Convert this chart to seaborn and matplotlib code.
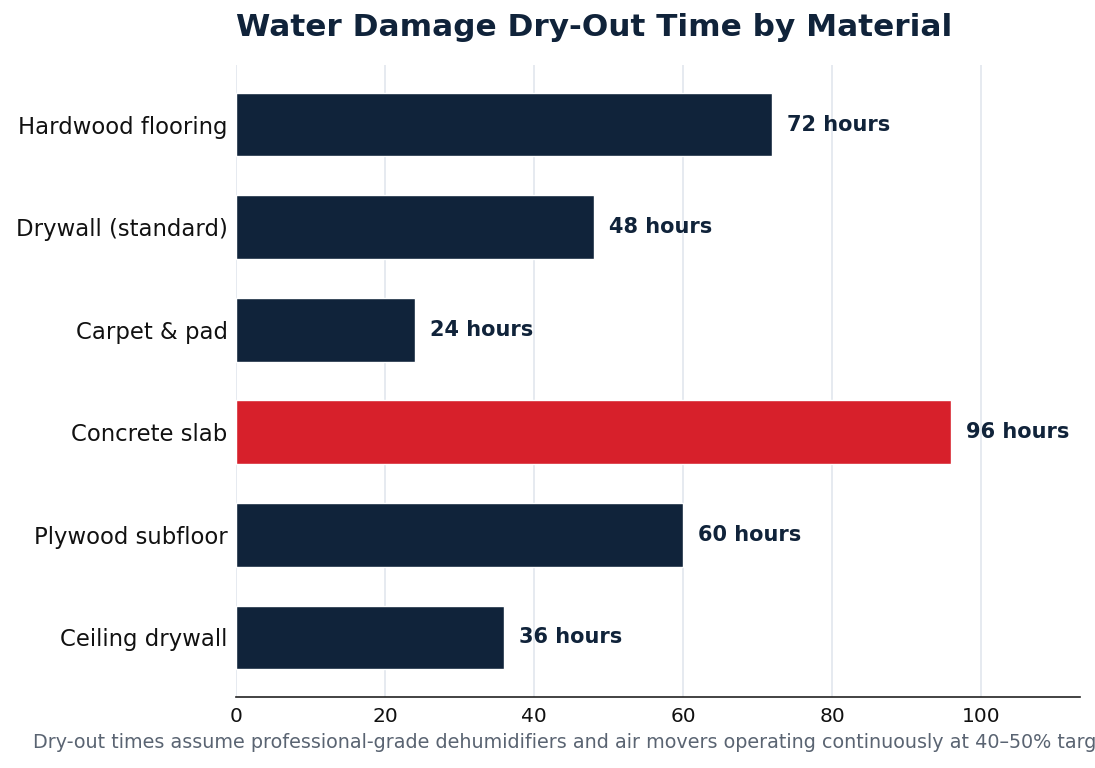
import numpy as np
import pandas as pd
import matplotlib
matplotlib.use("Agg")
import matplotlib.pyplot as plt
import seaborn as sns

materials = ["Hardwood flooring", "Drywall (standard)", "Carpet & pad",
             "Concrete slab", "Plywood subfloor", "Ceiling drywall"]
hours = [72, 48, 24, 96, 60, 36]
highlight = "Concrete slab"

NAVY = "#10233a"
RED = "#d7202b"

df = pd.DataFrame({"material": materials, "hours": hours})
palette = {m: (RED if m == highlight else NAVY) for m in materials}

sns.set_theme(style="white")
plt.rcParams["font.family"] = ["DejaVu Sans"]

fig = plt.figure(figsize=(10.95, 7.68), dpi=100)
ax = fig.add_axes([236 / 1095, 1 - 697 / 768, (1080 - 236) / 1095, (697 - 65) / 768])

sns.barplot(data=df, x="hours", y="material", hue="material", palette=palette,
            order=materials, width=0.62, legend=False, ax=ax, saturation=1)

ax.set_xlim(0, max(hours) * 1.18)
ax.set_ylim(len(materials) - 0.42, -0.58)
ax.set_xticks([0, 20, 40, 60, 80, 100])
ax.xaxis.grid(True, color="#e2e6ee", linewidth=1.2)
ax.set_axisbelow(True)
ax.set_xlabel("")
ax.set_ylabel("")
for s in ["left", "right", "top"]:
    ax.spines[s].set_visible(False)
ax.spines["bottom"].set_color("#222222")
ax.spines["bottom"].set_linewidth(1.2)
ax.tick_params(axis="y", labelsize=16.4, length=0, pad=6, colors="#111111")
ax.tick_params(axis="x", labelsize=14.5, length=4, colors="#111111")

for i, v in enumerate(hours):
    ax.text(v + 2, i, f"{v} hours", va="center", ha="left",
            fontsize=15, fontweight="bold", color=NAVY)

fig.text(236 / 1095, 1 - 28 / 768, "Water Damage Dry-Out Time by Material",
         fontsize=22.4, fontweight="bold", color=NAVY, ha="left", va="center")
# footnote runs past the right edge, as in the original
fig.text(33 / 1095, 1 - 743 / 768,
         "Dry-out times assume professional-grade dehumidifiers and air movers operating continuously at 40\u201350% target relative humidity.",
         fontsize=13.8, color="#5a6472", ha="left", va="center")

fig.savefig("out.png", dpi=100)
